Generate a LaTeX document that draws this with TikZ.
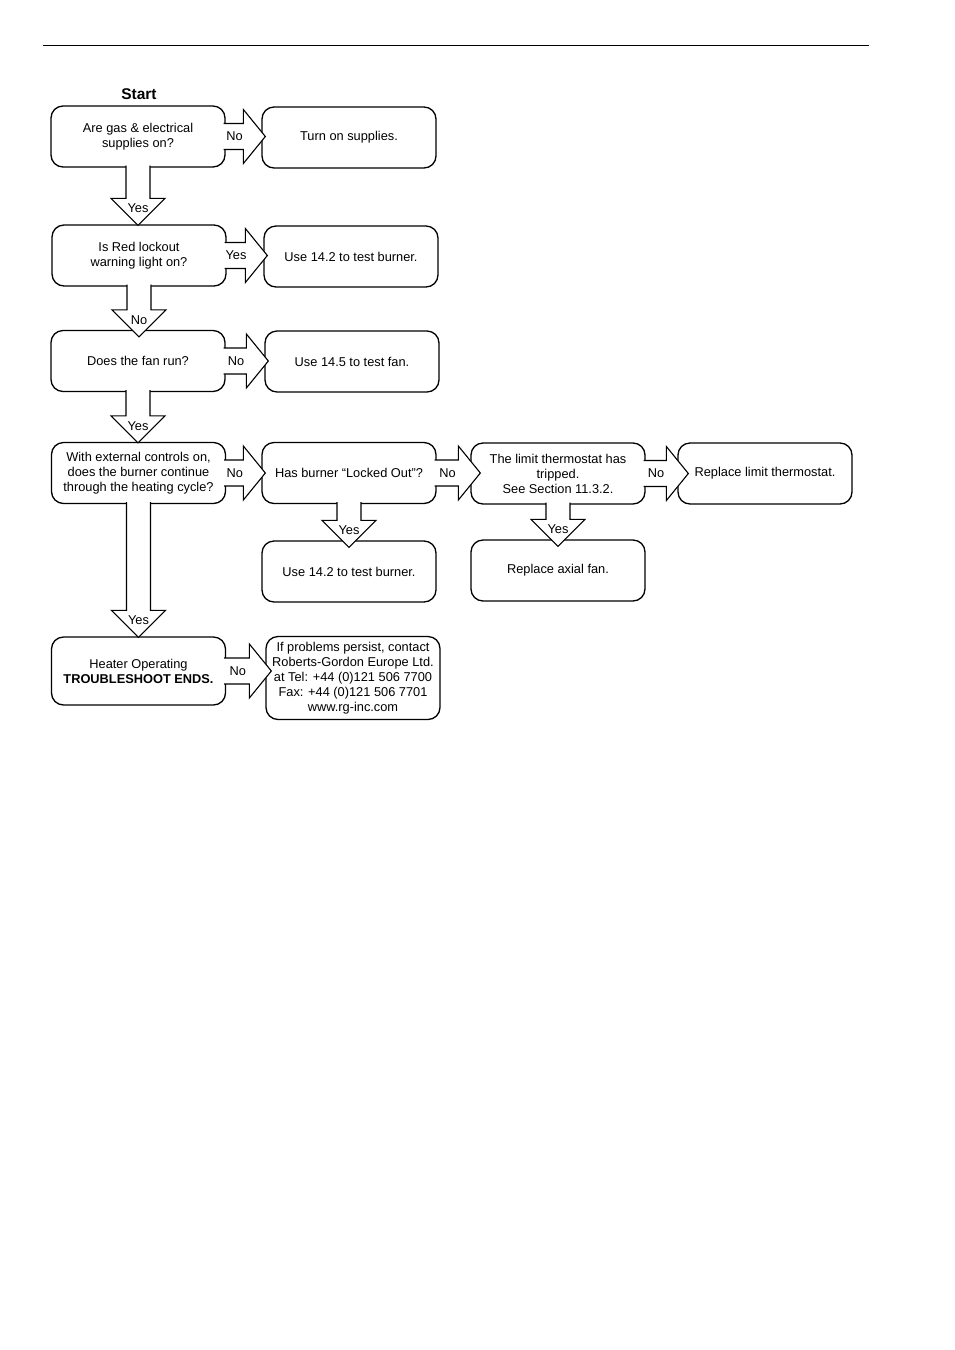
\documentclass[tikz,border=0pt]{standalone}
\usepackage{fontspec}
\setmainfont{Liberation Sans}
\usetikzlibrary{calc}
\tikzset{
  box/.style={draw, line width=1.3pt, rounded corners=12pt, minimum width=174pt, minimum height=61pt, align=center, inner sep=2pt, font=\fontsize{12.8}{15}\selectfont},
  blockarrow/.style={line width=1.1pt, line join=miter, fill=white},
  arrowlabel/.style={inner sep=0pt, font=\fontsize{12.8}{15}\selectfont},
}
\newcommand{\harrow}[4][4]{%
  \filldraw [blockarrow] let \p1=(#2.east), \p2=(#2.east -| #3.west) in
  (\x1-2,\y1+13) -- (\x2+#1-22,\y1+13) -- (\x2+#1-22,\y1+27) -- (\x2+#1,\y1) -- (\x2+#1-22,\y1-27) -- (\x2+#1-22,\y1-13) -- (\x1-2,\y1-13);
  \path let \p1=(#2.east), \p2=(#2.east -| #3.west) in
  node [arrowlabel] at (\x1/2+\x2/2+#1/2-11,\y1) {#4};
}
\newcommand{\varrow}[4][1]{%
  \filldraw [blockarrow] let \p1=(#2.south), \p2=(#2.south |- #3.north) in
  (\x1-12,\y1+2) -- (\x1-12,\y2-#1+27) -- (\x1-27,\y2-#1+27) -- (\x1,\y2-#1) -- (\x1+27,\y2-#1+27) -- (\x1+12,\y2-#1+27) -- (\x1+12,\y1+2);
  \path let \p2=(#2.south |- #3.north) in
  node [arrowlabel] at (\x2,\y2-#1+17) {#4};
}

\begin{document}
\begin{tikzpicture}[x=1pt, y=-1pt]
    \useasboundingbox (0,0) rectangle (954,1350);

    \draw [line width=1pt] (43,45) -- (869,45);

    \node [font=\fontsize{15.5}{18}\selectfont\bfseries] (start) at (139,94) {Start};

    \node [box] (supply) at (138,136.5) {Are gas \& electrical\\supplies on?};
    \node [box] (turnon) at (349,137.5) {Turn on supplies.};
    \node [box] (lockout) at (139,255.5) {Is Red lockout\\warning light on?};
    \node [box] (redtest) at (351,256.5) {Use 14.2 to test burner.};
    \node [box] (fanrun) at (138,361) {Does the fan run?};
    \node [box] (fantest) at (352,361.5) {Use 14.5 to test fan.};
    \node [box] (cycle) at (138.5,473) {With external controls on,\\does the burner continue\\through the heating cycle?};
    \node [box] (locked) at (349,473) {Has burner “Locked Out”?};
    \node [box] (limit) at (558,473.5) {The limit thermostat has\\tripped.\\See Section 11.3.2.};
    \node [box] (replimit) at (765,473.5) {Replace limit thermostat.};
    \node [box] (burnertest) at (349,571.5) {Use 14.2 to test burner.};
    \node [box] (axial) at (558,570.5) {Replace axial fan.};
    \node [box, minimum height=68pt] (ends) at (138.5,671) {Heater Operating\\\textbf{TROUBLESHOOT ENDS.}};
    \node [box, minimum height=83pt] (contact) at (353,678) {If problems persist, contact\\Roberts-Gordon Europe Ltd.\\at Tel: +44 (0)121 506 7700\\Fax: +44 (0)121 506 7701\\www.rg-inc.com};

    \harrow{supply}{turnon}{No}
    \harrow{lockout}{redtest}{Yes}
    \harrow{fanrun}{fantest}{No}
    \harrow{cycle}{locked}{No}
    \harrow[10]{locked}{limit}{No}
    \harrow[11]{limit}{replimit}{No}
    \harrow[6]{ends}{contact}{No}

    \varrow{supply}{lockout}{Yes}
    \varrow[7]{lockout}{fanrun}{No}
    \varrow{fanrun}{cycle}{Yes}
    \varrow{cycle}{ends}{Yes}
    \varrow[7]{locked}{burnertest}{Yes}
    \varrow[7]{limit}{axial}{Yes}

  \end{tikzpicture}
\end{document}
